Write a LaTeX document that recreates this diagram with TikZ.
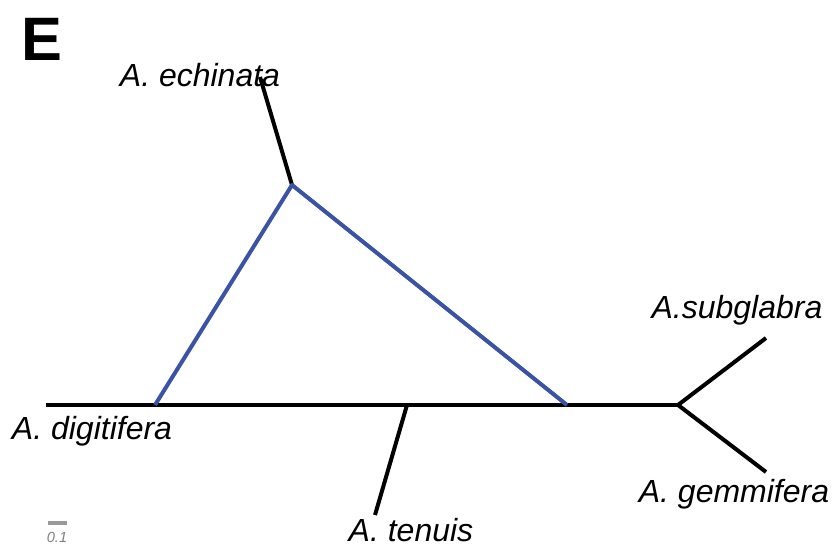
\documentclass[tikz,border=0pt]{standalone}
\usepackage{fontspec}
\setmainfont{Liberation Sans}
\usepackage{tikz}
\usetikzlibrary{positioning, calc}
\definecolor{hybblue}{RGB}{58,83,164}

\begin{document}
\begin{tikzpicture}[x=0.75pt, y=-0.75pt,
    branch/.style={line width=3pt, black},
    reticulate/.style={line width=3pt, hybblue, line join=round},
    taxon/.style={font=\fontsize{24}{28}\selectfont\itshape, inner sep=0pt},
    scalebar/.style={line width=2.5pt, gray!80}
]
\useasboundingbox (0,0) rectangle (836,548);

% panel letter
\node[font=\fontsize{46}{50}\selectfont\bfseries, inner sep=0pt, anchor=north west] (panel) at (21,18) {E};

% tree points
\coordinate (root) at (46,405);
\coordinate (hyb1) at (155,405);
\coordinate (ten) at (407,405);
\coordinate (hyb2) at (567,405);
\coordinate (fork) at (678,405);
\coordinate (top) at (292,185);
\coordinate (echtip) at (260,77);
\coordinate (tentip) at (375,515);
\coordinate (subtip) at (766,338);
\coordinate (gemtip) at (766,472);

% labels
\node[taxon] (echinata) at (200,75) {A. echinata};
\node[taxon] (digitifera) at (92,431) {A. digitifera};
\node[taxon] (tenuis) at (411,530) {A. tenuis};
\node[taxon] (subglabra) at (737,310) {A.subglabra};
\node[taxon] (gemmifera) at (734,494) {A. gemmifera};

% branches
\draw[branch] (root) -- (fork);
\draw[branch] (top) -- (echtip);
\draw[branch] (ten) -- (tentip);
\draw[branch] (fork) -- (subtip);
\draw[branch] (fork) -- (gemtip);
\draw[reticulate] (hyb1) -- (top) -- (hyb2);

% scale
\coordinate (sa) at (48,523);
\coordinate (sb) at (67,523);
\draw[scalebar] (sa) -- (sb);
\node[font=\fontsize{11}{12}\selectfont\itshape, text=gray, inner sep=0pt] (scale) at (57,537) {0.1};
\end{tikzpicture}
\end{document}
